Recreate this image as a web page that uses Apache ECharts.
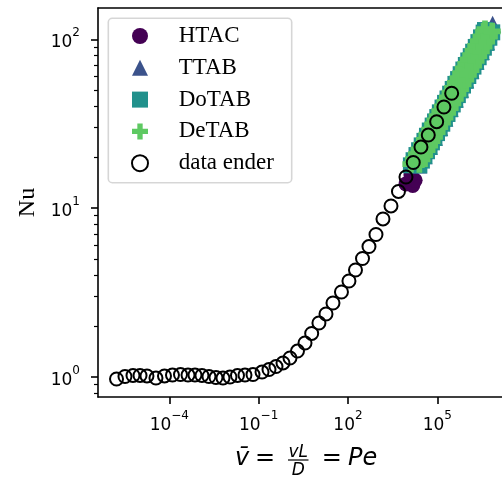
<!DOCTYPE html>
<html>
<head>
<meta charset="utf-8">
<script src="https://cdn.jsdelivr.net/npm/echarts@6/dist/echarts.min.js"></script>
<style>
html,body{margin:0;padding:0;background:#fff;}
#chart{width:502px;height:479px;}
</style>
</head>
<body>
<div id="chart"></div>
<script>
// ---- data (Pe, Nu) ----
const enderPe = [1.69e-6, 3.25e-6, 6.04e-6, 1.04e-5, 1.78e-5, 3.57e-5, 6.90e-5, 1.28e-4, 2.38e-4, 4.25e-4,
  7.29e-4, 1.25e-3, 2.15e-3, 3.70e-3, 6.35e-3, 1.09e-2, 1.95e-2, 3.48e-2, 6.47e-2, 0.130,
  0.223, 0.383, 0.658, 1.13, 2.02, 3.61, 6.05, 10.6, 18.3, 31.4,
  60.5, 108, 179, 308, 508, 873, 1500, 2786, 4966, 8872,
  1.56e4, 2.83e4, 4.98e4, 9.53e4, 1.67e5, 3.04e5];
const enderNu = [0.969, 1.003, 1.017, 1.017, 1.010, 0.982, 1.010, 1.023, 1.030, 1.023,
  1.023, 1.017, 1.003, 0.989, 0.982, 0.996, 1.017, 1.023, 1.030, 1.066,
  1.103, 1.149, 1.206, 1.291, 1.420, 1.584, 1.804, 2.081, 2.353, 2.735,
  3.178, 3.692, 4.291, 5.020, 5.912, 6.966, 8.61, 10.28, 12.53, 15.27,
  18.61, 22.99, 27.08, 32.48, 39.7, 47.9];

const htacPe = [8.9e3, 1.5e4, 1.8e4, 1.3e4, 2e4, 3e4, 4.5e4, 7e4, 1e5, 1.5e5, 2.2e5, 3.3e5, 5e5, 7.5e5];
const htacNu = [13.9, 13.6, 14.6, 15.7, 18.0, 20.5, 23.4, 27.0, 30.3, 34.5, 39.0, 44.5, 50.8, 57.9];

const ttabPe = [2.4e4, 3.6e4, 5.4e4, 8e4, 1.2e5, 1.8e5, 2.7e5, 4e5, 6e5, 9e5, 1.35e6, 2e6, 3e6, 4.5e6, 7.2e6];
const ttabNu = [18.0, 20.4, 23.2, 26.3, 30.0, 34.2, 39.0, 44.3, 50.5, 57.5, 65.5, 74.4, 84.8, 96.6, 123];

const dotabPe = [1.3e4, 1.6e4, 2e4, 2.45e4, 3e4, 3.7e4, 4.5e4, 5.6e4, 7e4, 8.4e4, 1e5, 1.22e5, 1.5e5, 1.82e5, 2.2e5, 2.7e5,
  3.3e5, 4.06e5, 5e5, 6.1e5, 7.5e5, 9.1e5, 1.1e6, 1.33e6, 1.6e6, 1.96e6, 2.4e6, 2.94e6, 3.6e6, 4e6,
  2.5e4, 3.04e4, 3.7e4, 4.5e4, 5.5e4, 6.6e4, 8e4, 9.8e4, 1.2e5, 1.47e5, 1.8e5, 2.2e5, 2.7e5, 3.3e5, 4e5, 4.9e5,
  6e5, 7.3e5, 9e5, 1.1e6, 1.35e6, 1.64e6, 2e6, 2.45e6, 3e6, 3.67e6, 4.5e6, 5.6e6, 7e6];
const dotabNu = [17.9, 19.2, 20.6, 22.0, 23.5, 25.0, 26.8, 28.8, 30.8, 32.6, 34.6, 36.9, 39.4, 42.0, 44.6, 47.6,
  50.8, 54.4, 58.1, 62.1, 66.2, 70.4, 74.9, 79.5, 84.4, 90.1, 96.2, 102.7, 109.6, 113.5,
  17.9, 19.1, 20.3, 21.7, 23.0, 24.5, 26.0, 27.8, 29.6, 31.6, 33.8, 36.1, 38.5, 41.1, 43.7, 46.7,
  49.8, 53.2, 56.7, 60.6, 64.6, 68.9, 73.4, 78.3, 83.6, 89.2, 95.2, 102.2, 110.0];

const detabPe = [1.3e4, 1.6e4, 2e4, 2.45e4, 3e4, 3.7e4, 4.5e4, 5.6e4, 7e4, 8.4e4, 1e5, 1.22e5, 1.5e5, 1.82e5, 2.2e5, 2.7e5,
  3.3e5, 4.06e5, 5e5, 6.1e5, 7.5e5, 9.1e5, 1.1e6, 1.33e6, 1.6e6, 1.96e6, 2.4e6, 2.94e6, 3.6e6, 4e6,
  2.5e4, 3.04e4, 3.7e4, 4.5e4, 5.5e4, 6.6e4, 8e4, 9.8e4, 1.2e5, 1.47e5, 1.8e5, 2.2e5, 2.7e5, 3.3e5, 4e5, 4.9e5,
  6e5, 7.3e5, 9e5, 1.1e6, 1.35e6, 1.64e6, 2e6, 2.45e6, 3e6, 3.67e6, 4.5e6, 5.6e6, 7e6];
const detabNu = [18.2, 19.5, 20.9, 22.3, 23.8, 25.4, 27.2, 29.2, 31.3, 33.1, 35.1, 37.5, 40.0, 42.6, 45.3, 48.3,
  51.6, 55.2, 59.0, 63.0, 67.2, 71.5, 76.0, 80.7, 85.7, 91.5, 97.7, 104.3, 111.3, 115,
  18.2, 19.4, 20.6, 22.0, 23.4, 24.9, 26.4, 28.2, 30.1, 32.1, 34.3, 36.6, 39.1, 41.7, 44.4, 47.4,
  50.6, 54.0, 57.6, 61.5, 65.6, 69.9, 74.5, 79.5, 84.9, 90.6, 96.7, 103.8, 111.5];

const xTickExponents = [-4, -1, 2, 5];
const yTickExponents = [0, 1, 2];
const yMinorTickValues = [0.8, 0.9, 2, 3, 4, 5, 6, 7, 8, 9, 20, 30, 40, 50, 60, 70, 80, 90];
const xLogRange = [-6.394, 7.173];
const yLogRange = [-0.1203, 2.1856];

// ---- helpers ----
const toXY = (pe, nu) => pe.map((p, i) => [Math.log10(p), Math.log10(nu[i])]);
const expLabel = v => {
  const e = Math.round(v);
  return '{b|10}{s|' + (e < 0 ? '\u2212' + (-e) : e) + '}';
};
const SANS = 'DejaVu Sans';
const SERIF = 'Liberation Serif';
const richTick = {
  b: {fontFamily: SANS, fontSize: 17, lineHeight: 24, verticalAlign: 'bottom', color: '#000'},
  s: {fontFamily: SANS, fontSize: 12, lineHeight: 12, verticalAlign: 'top', color: '#000'}
};
const PLUS = 'path://M-1,-3L1,-3L1,-1L3,-1L3,1L1,1L1,3L-1,3L-1,1L-3,1L-3,-1L-1,-1Z';
const colors = {HTAC: '#440154', TTAB: '#3b528b', DoTAB: '#21918c', DeTAB: '#5ec962'};
const axisLineStyle = {color: '#000', width: 1.6};

const chart = echarts.init(document.getElementById('chart'), null, {renderer: 'canvas'});
chart.setOption({
  animation: false,
  backgroundColor: '#fff',
  grid: {left: 98, top: 8, right: 0, bottom: 82, containLabel: false},
  xAxis: [{
    type: 'value', position: 'bottom', min: xLogRange[0], max: xLogRange[1],
    axisLine: {show: true, onZero: false, lineStyle: axisLineStyle},
    axisTick: {show: true, customValues: xTickExponents, length: 7, lineStyle: axisLineStyle},
    axisLabel: {customValues: xTickExponents, formatter: expLabel, rich: richTick, margin: 13},
    splitLine: {show: false}
  }, {
    type: 'value', position: 'top', min: xLogRange[0], max: xLogRange[1],
    axisLine: {show: true, onZero: false, lineStyle: axisLineStyle},
    axisTick: {show: false}, axisLabel: {show: false}, splitLine: {show: false}
  }],
  yAxis: [{
    type: 'value', position: 'left', min: yLogRange[0], max: yLogRange[1],
    name: 'Nu', nameLocation: 'middle', nameRotate: 90, nameGap: 56,
    nameTextStyle: {fontFamily: SERIF, fontSize: 24, color: '#000'},
    axisLine: {show: true, onZero: false, lineStyle: axisLineStyle},
    axisTick: {show: true, customValues: yTickExponents, length: 7, lineStyle: axisLineStyle},
    axisLabel: {customValues: yTickExponents, formatter: expLabel, rich: richTick, margin: 18},
    splitLine: {show: false}
  }, {
    type: 'value', position: 'left', min: yLogRange[0], max: yLogRange[1],
    axisLine: {show: false, onZero: false},
    axisTick: {show: true, customValues: yMinorTickValues.map(Math.log10), length: 4, lineStyle: {color: '#000', width: 1.2}},
    axisLabel: {show: false}, splitLine: {show: false}
  }],
  legend: {
    orient: 'vertical', left: 131, top: 24.5, padding: 0,
    itemWidth: 16, itemHeight: 16, itemGap: 8.8,
    selectedMode: false,
    formatter: name => '{sp|}{t|' + name + '}',
    textStyle: {
      fontFamily: SERIF, fontSize: 23, lineHeight: 23, color: '#000',
      rich: {
        sp: {width: 25.7, lineHeight: 23},
        t: {fontFamily: SERIF, fontSize: 23, lineHeight: 23, color: '#000'}
      }
    },
    data: [
      {name: 'HTAC', icon: 'circle'},
      {name: 'TTAB', icon: 'triangle'},
      {name: 'DoTAB', icon: 'rect'},
      {name: 'DeTAB', icon: PLUS},
      {name: 'data ender', icon: 'circle'}
    ]
  },
  graphic: [
    {type: 'rect', z: 3, shape: {x: 108.3, y: 18.3, width: 183.4, height: 164.4, r: 4},
      style: {fill: 'rgba(255,255,255,0.8)', stroke: 'rgba(204,204,204,0.8)', lineWidth: 1.6}},
    {type: 'text', x: 235, y: 459, style: {text: 'v\u0304', font: 'italic 24px "DejaVu Sans"', fill: '#000', textAlign: 'left', textVerticalAlign: 'middle'}},
    {type: 'text', x: 255, y: 459, style: {text: '=', font: '24px "DejaVu Sans"', fill: '#000', textAlign: 'left', textVerticalAlign: 'middle'}},
    {type: 'text', x: 298.3, y: 452.5, style: {text: 'vL', font: 'italic 17px "DejaVu Sans"', fill: '#000', textAlign: 'center', textVerticalAlign: 'middle'}},
    {type: 'line', shape: {x1: 288, y1: 460, x2: 308.5, y2: 460}, style: {stroke: '#000', lineWidth: 1.2}},
    {type: 'text', x: 298.3, y: 470.5, style: {text: 'D', font: 'italic 17px "DejaVu Sans"', fill: '#000', textAlign: 'center', textVerticalAlign: 'middle'}},
    {type: 'text', x: 321.7, y: 459, style: {text: '=', font: '24px "DejaVu Sans"', fill: '#000', textAlign: 'left', textVerticalAlign: 'middle'}},
    {type: 'text', x: 348, y: 459, style: {text: 'Pe', font: 'italic 24px "DejaVu Sans"', fill: '#000', textAlign: 'left', textVerticalAlign: 'middle'}}
  ],
  series: [
    {name: 'HTAC', type: 'scatter', symbol: 'circle', symbolSize: 15, data: toXY(htacPe, htacNu),
      itemStyle: {color: colors.HTAC, opacity: 1}, emphasis: {disabled: true}},
    {name: 'TTAB', type: 'scatter', symbol: 'triangle', symbolSize: 17, data: toXY(ttabPe, ttabNu),
      itemStyle: {color: colors.TTAB, opacity: 1}, emphasis: {disabled: true}},
    {name: 'DoTAB', type: 'scatter', symbol: 'rect', symbolSize: 16, data: toXY(dotabPe, dotabNu),
      itemStyle: {color: colors.DoTAB, opacity: 1}, emphasis: {disabled: true}},
    {name: 'DeTAB', type: 'scatter', symbol: PLUS, symbolSize: 17, data: toXY(detabPe, detabNu),
      itemStyle: {color: colors.DeTAB, opacity: 1}, emphasis: {disabled: true}},
    {name: 'data ender', type: 'scatter', symbol: 'circle', symbolSize: 13, data: toXY(enderPe, enderNu),
      itemStyle: {color: 'rgba(0,0,0,0)', borderColor: '#000', borderWidth: 2, opacity: 1}, emphasis: {disabled: true}}
  ]
});
</script>
</body>
</html>
